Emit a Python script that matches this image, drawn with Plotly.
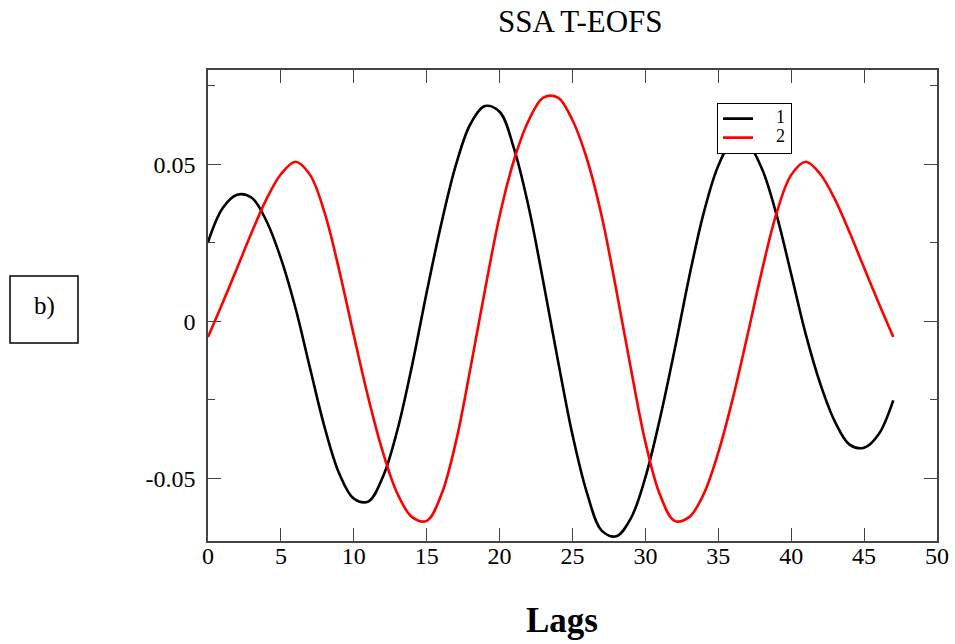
import plotly.graph_objects as go

lags = list(range(48))

eof1 = [0.0252, 0.0360, 0.0403, 0.0393, 0.0320, 0.0200, 0.0042, -0.0150,
        -0.0338, -0.0485, -0.0565, -0.0574, -0.0495, -0.0345, -0.0140, 0.0092,
        0.0310, 0.0497, 0.0628, 0.0685, 0.0667, 0.0548, 0.0362, 0.0125,
        -0.0125, -0.0362, -0.0548, -0.0667, -0.0685, -0.0628, -0.0497, -0.0310,
        -0.0092, 0.0140, 0.0345, 0.0495, 0.0574, 0.0565, 0.0485, 0.0338,
        0.0150, -0.0042, -0.0200, -0.0320, -0.0393, -0.0403, -0.0360, -0.0252]

eof2 = [-0.0050, 0.0058, 0.0170, 0.0283, 0.0388, 0.0468, 0.0508, 0.0466,
        0.0345, 0.0162, -0.0045, -0.0245, -0.0418, -0.0550, -0.0624, -0.0636,
        -0.0553, -0.0385, -0.0150, 0.0100, 0.0335, 0.0515, 0.0640, 0.0712,
        0.0712, 0.0640, 0.0515, 0.0335, 0.0100, -0.0150, -0.0385, -0.0553,
        -0.0636, -0.0624, -0.0550, -0.0418, -0.0245, -0.0045, 0.0162, 0.0345,
        0.0466, 0.0508, 0.0468, 0.0388, 0.0283, 0.0170, 0.0058, -0.0050]

series_names = ["1", "2"]
x_ticks = [0, 5, 10, 15, 20, 25, 30, 35, 40, 45, 50]
x_ticktext = ["0", "5", "10", "15", "20", "25", "30", "35", "40", "45", "50"]
y_ticks = [-0.05, 0, 0.05]
y_ticktext = ["-0.05", "0", "0.05"]

SERIF = "Liberation Serif, Times New Roman, serif"
AXC = "#444444"


def legend_label(s):
    return "<span style='font-size:18px'>\u2002\u2002" + s + "</span>"


fig = go.Figure()
fig.add_trace(go.Scatter(x=lags, y=eof1, mode="lines", name=legend_label(series_names[0]),
                         line=dict(color="black", width=2.6, shape="spline", smoothing=1.0)))
fig.add_trace(go.Scatter(x=lags, y=eof2, mode="lines", name=legend_label(series_names[1]),
                         line=dict(color="#ff0000", width=2.6, shape="spline", smoothing=1.0)))

fig.update_layout(
    width=955, height=644,
    margin=dict(l=208, r=18, t=70, b=103, autoexpand=False),
    paper_bgcolor="white", plot_bgcolor="white",
    font=dict(family=SERIF, color="black"),
    showlegend=True,
    legend=dict(x=0.698, y=0.93, xanchor="left", yanchor="top",
                bgcolor="white", bordercolor="black", borderwidth=1.2,
                font=dict(family=SERIF, size=11, color="black"),
                itemwidth=30, tracegroupgap=0),
    xaxis=dict(range=[0, 50], tickvals=x_ticks, ticktext=x_ticktext,
               ticks="inside", ticklen=13, tickwidth=1.3, tickcolor=AXC,
               showline=True, linecolor=AXC, linewidth=1.5, mirror="allticks",
               showgrid=False, zeroline=False, ticklabelstandoff=-8, automargin=False,
               tickfont=dict(family=SERIF, size=24, color="black")),
    yaxis=dict(range=[-0.07, 0.08], tickvals=y_ticks, ticktext=y_ticktext,
               ticks="inside", ticklen=13, tickwidth=1.3, tickcolor=AXC,
               minor=dict(tickvals=[-0.025, 0.025, 0.075], ticks="inside", ticklen=7,
                          tickwidth=1.3, tickcolor=AXC, showgrid=False),
               showline=True, linecolor=AXC, linewidth=1.5, mirror="allticks",
               showgrid=False, zeroline=False, ticklabelstandoff=6, automargin=False,
               tickfont=dict(family=SERIF, size=24, color="black")),
)

fig.add_annotation(text="SSA T-EOFS", xref="paper", yref="paper",
                   x=(580 - 208) / 729, y=(541 - 21) / 471,
                   xanchor="center", yanchor="middle", showarrow=False,
                   font=dict(family=SERIF, size=31, color="black"))
fig.add_annotation(text="<b>Lags</b>", xref="paper", yref="paper",
                   x=(562 - 208) / 729, y=(541 - 620) / 471,
                   xanchor="center", yanchor="middle", showarrow=False,
                   font=dict(family=SERIF, size=35, color="black"))
fig.add_shape(type="rect", xref="paper", yref="paper",
              x0=(10 - 208) / 729, x1=(78 - 208) / 729,
              y0=(541 - 276) / 471, y1=(541 - 343) / 471,
              line=dict(color="black", width=1.5), fillcolor="rgba(0,0,0,0)")
fig.add_annotation(text="b)", xref="paper", yref="paper",
                   x=(44 - 208) / 729, y=(541 - 306) / 471,
                   xanchor="center", yanchor="middle", showarrow=False,
                   font=dict(family=SERIF, size=25, color="black"))

fig.write_html("out.html", config={"displayModeBar": False},
               post_script="document.body.style.margin='0';document.body.style.overflow='hidden';")
